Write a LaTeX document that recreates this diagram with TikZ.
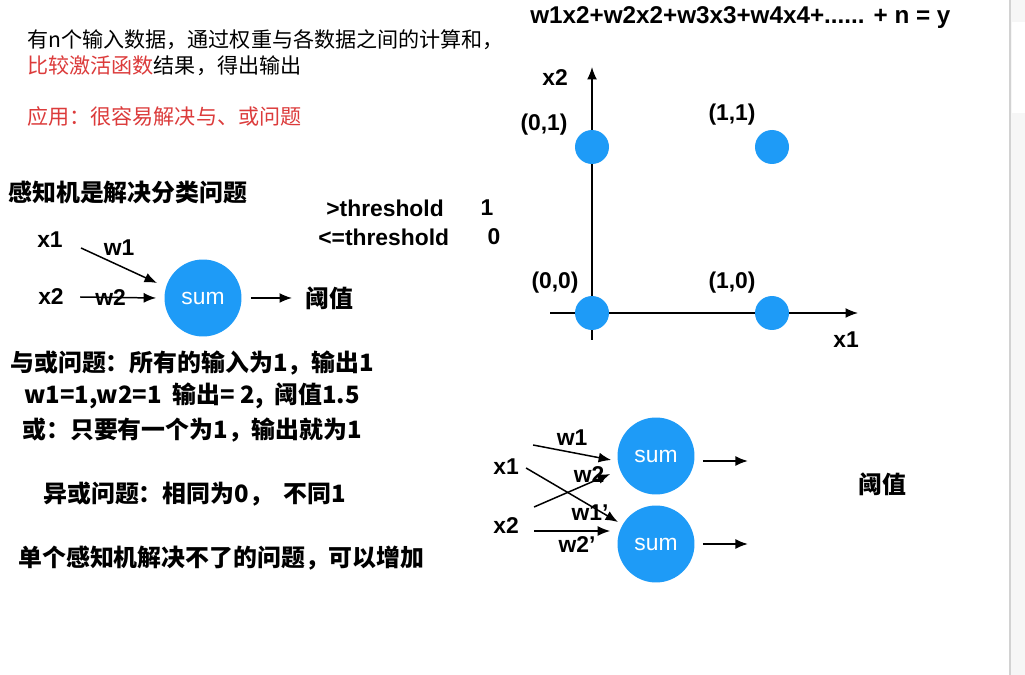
\documentclass[tikz,border=0pt]{standalone}
\usepackage{fontspec}
\setmainfont{Liberation Sans}
\newfontfamily\cjk{Noto Sans CJK SC}
\usetikzlibrary{arrows.meta,positioning,calc}

\begin{document}
\begin{tikzpicture}[
  x=0.02cm,y=-0.02cm,
  >={Latex[length=2.5mm,width=2mm]},
  txt/.style={anchor=west,inner sep=0pt,font=\cjk\fontsize{12}{14}\selectfont},
  note/.style={anchor=west,inner sep=0pt,font=\cjk\bfseries\fontsize{13.6}{16}\selectfont},
  lbl/.style={inner sep=0pt,font=\bfseries\fontsize{13}{15}\selectfont},
  sumc/.style={circle,fill=cblue,minimum size=1.54cm,inner sep=0pt,
               text=white,font=\fontsize{13}{15}\selectfont},
  dot/.style={circle,fill=cblue,minimum size=0.68cm,inner sep=0pt},
  arr/.style={->,line width=0.85pt},
]
  \definecolor{cblue}{HTML}{1E9BF7}
  \definecolor{cred}{HTML}{DC3B3B}
  \useasboundingbox[fill=white] (0,0) rectangle (1025,675);

  % side panel of the window
  \fill[gray!7] (1010,0) rectangle (1025,675);
  \fill[white] (1012,22) rectangle (1025,113);
  \draw[gray!35,line width=1.2pt] (1010,0) -- (1010,675);

  % intro text
  \node[txt] (intro1) at (27,40) {有n个输入数据，通过权重与各数据之间的计算和，};
  \node[txt] (intro2) at (27,66) {{\color{cred}比较激活函数}结果，得出输出};
  \node[txt,text=cred] (use) at (27,116) {应用：很容易解决与、或问题};

  % single perceptron
  \node[note] (title) at (8,192) {感知机是解决分类问题};
  \node[lbl,anchor=west] (gt) at (326,208) {>threshold};
  \node[lbl] (one) at (487,208) {1};
  \node[lbl,anchor=west] (le) at (318,237) {<=threshold};
  \node[lbl] (zero) at (494,237) {0};

  \node[lbl] (x1) at (50,240) {x1};
  \node[lbl] (x2) at (51,297) {x2};
  \node[sumc] (sum) at (203,298) {sum};
  \node[note] (thr) at (305,298) {阈值};
  \draw[arr] ($(x1.east)+(18,8)$) -- node[lbl,pos=0.5,above=5pt] (w1) {w1} ($(sum.center)+(-46,-15)$);
  \draw[arr] ($(x2.east)+(16,0)$) -- node[lbl,pos=0.4] (w2) {w2} ($(sum.west)+(-8,0)$);
  \draw[arr] ($(sum.east)+(9,0)$) -- ($(thr.west)+(-13,0)$);

  % and / or / xor notes
  \node[note] (andor) at (10,363) {与或问题：所有的输入为1，输出1};
  \node[note] (wset) at (24,396) {w1=1,w2=1~ 输出= 2,~ 阈值1.5};
  \node[note] (ornote) at (22,430) {或：只要有一个为1，输出就为1};
  \node[note] (xor) at (43,494) {异或问题：相同为0，~ 不同1};
  \node[note] (more) at (18,558) {单个感知机解决不了的问题，可以增加};

  % formula
  \node[lbl,anchor=west,font=\bfseries\fontsize{13.8}{16}\selectfont] (formula) at (530,18)
    {w1x2+w2x2+w3x3+w4x4+...... + n = y};

  % x1-x2 plane
  \coordinate (xa) at (550,313);
  \coordinate (xb) at (858,313);
  \coordinate (ya) at (592,340);
  \coordinate (yb) at (592,67);
  \draw[arr] (xa) -- (xb);
  \draw[arr] (ya) -- (yb);
  \node[lbl] (ax2) at (555,78) {x2};
  \node[lbl] (ax1) at (846,340) {x1};
  \node[dot] (p01) at (592,147) {};
  \node[dot] (p11) at (772,147) {};
  \node[dot] (p00) at (592,313) {};
  \node[dot] (p10) at (772,313) {};
  \node[lbl] at (544,125) {(0,1)};
  \node[lbl] at (732,115) {(1,1)};
  \node[lbl] at (555,283) {(0,0)};
  \node[lbl] at (732,283) {(1,0)};

  % two perceptrons
  \node[lbl] (in1) at (506,467) {x1};
  \node[lbl] (in2) at (506,526) {x2};
  \node[sumc] (sa) at (656,456) {sum};
  \node[sumc] (sb) at (656,544) {sum};
  \draw[arr] ($(in1.east)+(14,-22)$) -- ($(sa.west)+(-6,4)$);
  \draw[arr] ($(in1.east)+(7,1)$) -- ($(sb.center)+(-38,-22)$);
  \draw[arr] ($(in2.east)+(15,-19)$) -- ($(sa.west)+(-7,18)$);
  \draw[arr] ($(in2.east)+(15,5)$) -- ($(sb.west)+(-7,-13)$);
  \node[lbl] (v1) at (572,438) {w1};
  \node[lbl] (v2) at (589,475) {w2};
  \node[lbl] (v1p) at (590,513) {w1'};
  \node[lbl] (v2p) at (577,545) {w2'};
  \draw[arr] ($(sa.east)+(8,5)$) -- ++(45,0);
  \draw[arr] ($(sb.east)+(8,0)$) -- ++(45,0);
  \node[note,anchor=center] (thr2) at (882,484) {阈值};
\end{tikzpicture}
\end{document}
